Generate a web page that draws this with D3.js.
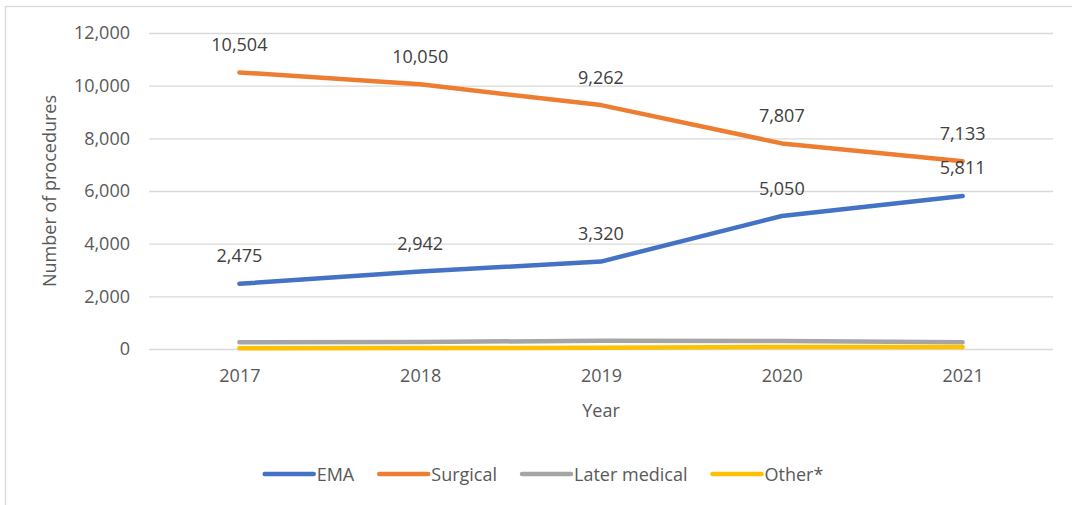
<!DOCTYPE html>
<html>
<head>
<meta charset="utf-8">
<script src="https://cdn.jsdelivr.net/npm/d3@7"></script>
<style>
  html, body { margin: 0; padding: 0; background: #fff; }
  svg { display: block; font-family: "Open Sans", sans-serif; }
</style>
</head>
<body>
<div id="chart"></div>
<script>
// data
const years = ['2017', '2018', '2019', '2020', '2021'];
const ema = [2475, 2942, 3320, 5050, 5811];
const surgical = [10504, 10050, 9262, 7807, 7133];
const laterMedical = [255, 265, 315, 305, 255];
const other = [30, 35, 45, 80, 80];
const yTicks = [0, 2000, 4000, 6000, 8000, 10000, 12000];

const series = [
  { name: 'EMA', values: ema, color: '#4472C4', labels: true },
  { name: 'Surgical', values: surgical, color: '#ED7D31', labels: true },
  { name: 'Later medical', values: laterMedical, color: '#A5A5A5', labels: false },
  { name: 'Other*', values: other, color: '#FFC000', labels: false },
];

const width = 1072;
const height = 505;
const plot = { left: 149, right: 1053, top: 33, bottom: 349 };

const svg = d3.select('#chart')
  .append('svg')
  .attr('width', width)
  .attr('height', height);

// chart frame (only left and top edges are inside the picture)
svg.append('rect')
  .attr('x', 5.5)
  .attr('y', 6.5)
  .attr('width', width + 20)
  .attr('height', height + 20)
  .attr('fill', 'none')
  .attr('stroke', '#d9d9d9')
  .attr('stroke-width', 1.3);

const x = d3.scalePoint()
  .domain(years)
  .range([plot.left, plot.right])
  .padding(0.5);

const y = d3.scaleLinear()
  .domain([0, 12000])
  .range([plot.bottom, plot.top]);

// gridlines + y tick labels
const yAxis = d3.axisLeft(y)
  .tickValues(yTicks)
  .tickFormat(d3.format(','))
  .tickSize(-(plot.right - plot.left))
  .tickPadding(19);

const gy = svg.append('g')
  .attr('transform', 'translate(' + plot.left + ',0)')
  .call(yAxis);
gy.select('.domain').remove();
gy.selectAll('.tick line')
  .attr('stroke', '#d9d9d9')
  .attr('stroke-width', 1.3);
gy.selectAll('.tick text')
  .attr('fill', '#595959')
  .attr('font-size', 18)
  .attr('font-family', '"Open Sans", sans-serif');

// x tick labels
const xAxis = d3.axisBottom(x).tickSize(0).tickPadding(20);
const gx = svg.append('g')
  .attr('transform', 'translate(0,' + plot.bottom + ')')
  .call(xAxis);
gx.select('.domain').remove();
gx.selectAll('.tick text')
  .attr('fill', '#595959')
  .attr('font-size', 18)
  .attr('font-family', '"Open Sans", sans-serif');

// axis titles
svg.append('text')
  .attr('transform', 'translate(56,' + (plot.top + plot.bottom) / 2 + ') rotate(-90)')
  .attr('text-anchor', 'middle')
  .attr('fill', '#595959')
  .attr('font-size', 18)
  .text('Number of procedures');

svg.append('text')
  .attr('x', (plot.left + plot.right) / 2)
  .attr('y', 417)
  .attr('text-anchor', 'middle')
  .attr('fill', '#595959')
  .attr('font-size', 18)
  .text('Year');

// lines, drawn from back to front like the reference
const line = d3.line()
  .x((d, i) => x(years[i]))
  .y(d => y(d));

const drawOrder = [series[0], series[1], series[2], series[3]];
drawOrder.forEach(s => {
  svg.append('path')
    .datum(s.values)
    .attr('d', line)
    .attr('fill', 'none')
    .attr('stroke', s.color)
    .attr('stroke-width', 4.5)
    .attr('stroke-linecap', 'round')
    .attr('stroke-linejoin', 'round');
});

// data labels above the points
series.filter(s => s.labels).forEach(s => {
  svg.append('g')
    .selectAll('text')
    .data(s.values)
    .join('text')
    .attr('x', (d, i) => x(years[i]))
    .attr('y', d => y(d) - 21.5)
    .attr('text-anchor', 'middle')
    .attr('fill', '#404040')
    .attr('font-size', 18)
    .text(d => d3.format(',')(d));
});

// legend, centred on the chart area
const legend = svg.append('g');
let lx = 0;
series.forEach(s => {
  const item = legend.append('g').attr('transform', 'translate(' + lx + ',0)');
  item.append('line')
    .attr('x1', 0)
    .attr('x2', 49)
    .attr('y1', 0)
    .attr('y2', 0)
    .attr('stroke', s.color)
    .attr('stroke-width', 4.5)
    .attr('stroke-linecap', 'round');
  const t = item.append('text')
    .attr('x', 52)
    .attr('y', 6.5)
    .attr('fill', '#595959')
    .attr('font-size', 18)
    .text(s.name);
  lx += 52 + t.node().getComputedTextLength() + 25;
});
const legendWidth = lx - 25;
legend.attr('transform', 'translate(' + (544 - legendWidth / 2) + ',474)');
</script>
</body>
</html>
